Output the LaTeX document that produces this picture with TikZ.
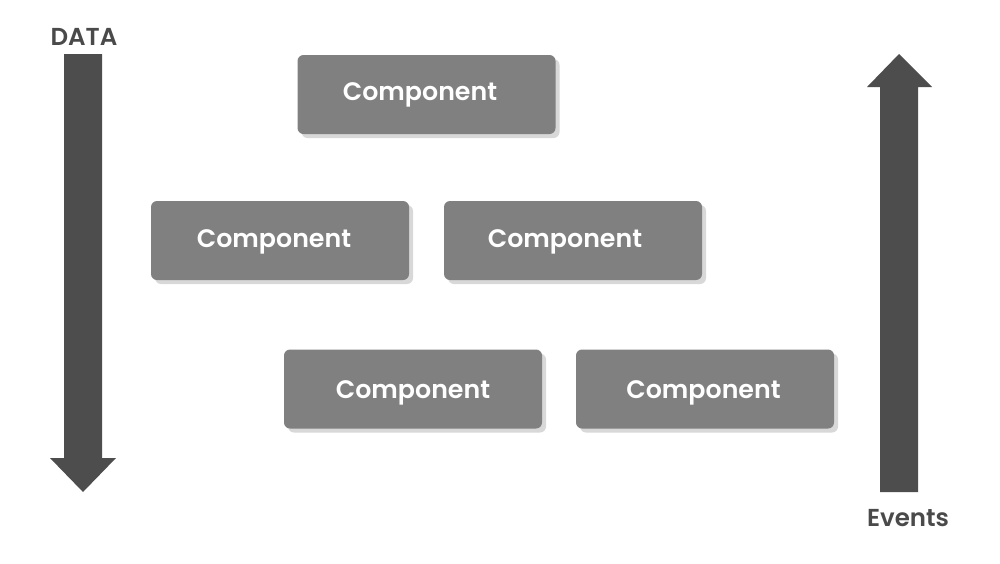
\documentclass[tikz,border=0pt]{standalone}
\usepackage{fontspec}
\setmainfont{Poppins}[BoldFont={Poppins SemiBold}]
\usetikzlibrary{shadows}
\definecolor{boxgray}{HTML}{808080}
\definecolor{arrowgray}{HTML}{4D4D4D}
\definecolor{labelgray}{HTML}{4A4A4A}
\begin{document}
\begin{tikzpicture}[x=1pt,y=-1pt,
  compbox/.style={fill=boxgray, rounded corners=6pt, minimum width=258pt, minimum height=79pt,
    inner sep=0pt,
    drop shadow={shadow xshift=4pt, shadow yshift=-4pt, fill=black!25, opacity=0.6}},
  comptext/.style={text=white, inner sep=0pt, font=\fontsize{25.3}{29}\selectfont\bfseries},
  sidelabel/.style={text=labelgray, font=\fontsize{24.5}{28}\selectfont\bfseries, inner sep=0pt},
  bigarrow/.style={fill=arrowgray, draw=none}]
\useasboundingbox (0,0) rectangle (1000,563);
\fill[white] (0,0) rectangle (1000,563);
% arrows
\fill[bigarrow] (64,54) -- (102,54) -- (102,458) -- (116,458) -- (83,492) -- (50,458) -- (64,458) -- cycle;
\fill[bigarrow] (880,492) -- (918,492) -- (918,87) -- (932,87) -- (899,54) -- (867,87) -- (880,87) -- cycle;
% labels
\node[sidelabel] (data) at (84,37) {DATA};
\node[sidelabel] (events) at (908,518) {Events};
% components
\node[compbox] (c1) at (426.5,94.5) {};
\node[compbox] (c2) at (280,240.5) {};
\node[compbox] (c3) at (573,240.5) {};
\node[compbox] (c4) at (413,389) {};
\node[compbox] (c5) at (705,389) {};
\node[comptext] (t1) at (420,95) {Component};
\node[comptext] (t2) at (274,242) {Component};
\node[comptext] (t3) at (565,242) {Component};
\node[comptext] (t4) at (413,393) {Component};
\node[comptext] (t5) at (703.5,393) {Component};
\end{tikzpicture}
\end{document}
